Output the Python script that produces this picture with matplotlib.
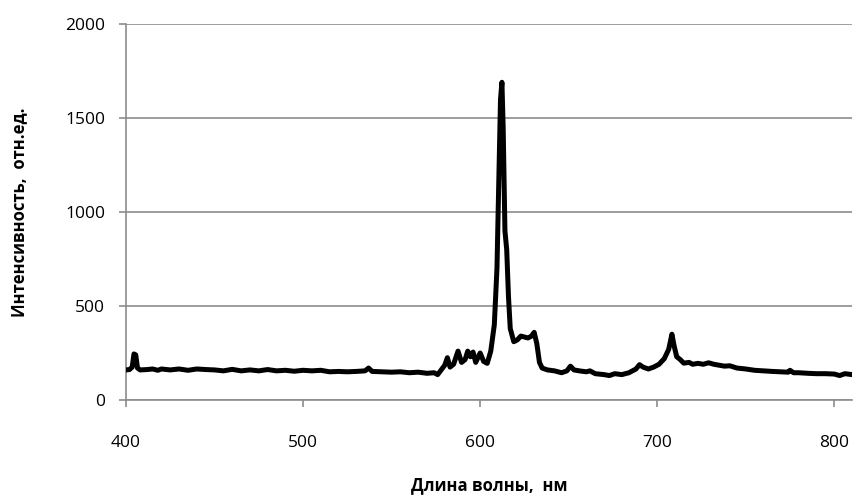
import matplotlib
matplotlib.use("Agg")
import matplotlib.pyplot as plt

wavelength = [400, 402, 403.5, 404.5, 405.5, 406.5, 408, 412, 415, 418, 420, 425, 430, 435,
              440, 445, 450, 455, 460, 465, 470, 475, 480, 485, 490, 495, 500, 505, 510,
              515, 520, 525, 530, 535, 537, 539, 545, 550, 555, 560, 565, 570, 574, 576,
              578, 580, 581.5, 583, 585, 587.5, 589.5, 591.5, 593, 594.5, 596, 597.5, 600,
              602, 604, 606, 608, 609.5, 610.5, 611.5, 612.3, 613, 614, 615, 616, 617,
              619, 621, 623, 625, 627, 629, 630.5, 632, 633.5, 635, 638, 642, 646, 649,
              651, 653, 656, 660, 662, 665, 670, 673, 676, 680, 684, 688, 690, 692, 695,
              698, 701, 704, 706.5, 708.3, 709.5, 711, 713, 715, 718, 720, 723, 726, 729,
              732, 735, 738, 741, 745, 750, 755, 760, 765, 770, 774, 775, 777, 780, 785,
              790, 795, 800, 803, 806, 810]
intensity = [160, 162, 175, 245, 240, 170, 160, 162, 165, 158, 165, 160, 165, 158,
             165, 162, 160, 155, 163, 155, 160, 155, 162, 155, 158, 153, 158, 155, 158,
             150, 152, 150, 152, 155, 170, 152, 150, 148, 150, 145, 148, 142, 145, 135,
             160, 185, 225, 175, 190, 260, 200, 215, 260, 230, 255, 200, 250,
             205, 195, 260, 400, 700, 1150, 1600, 1690, 1450, 900, 800, 550, 380,
             310, 320, 340, 335, 330, 340, 360, 300, 200, 170, 160, 155, 145, 155,
             180, 160, 155, 150, 155, 140, 135, 130, 140, 135, 145, 165, 188, 175, 165,
             175, 190, 220, 270, 350, 290, 230, 215, 196, 200, 190, 195, 190, 198,
             190, 185, 180, 182, 170, 165, 158, 155, 152, 150, 148, 158, 145, 145, 142,
             140, 140, 138, 130, 140, 135]

x_ticks = [400, 500, 600, 700, 800]
y_ticks = [0, 500, 1000, 1500, 2000]
x_label = "Длина волны,  нм"
y_label = "Интенсивность,  отн.ед."

plt.rcParams['font.family'] = ['Open Sans', 'DejaVu Sans']
grid_color = "#8c8c8c"

fig = plt.figure(figsize=(8.56, 5.0), dpi=100)
ax = fig.add_axes([126/856, 0.2, (852-126)/856, (400-24)/500])

ax.plot(wavelength, intensity, color="black", lw=3.6, solid_joinstyle="round",
        solid_capstyle="round", zorder=3)

ax.set_xlim(400, 810)
ax.set_ylim(0, 2000)
ax.set_xticks(x_ticks)
ax.set_yticks(y_ticks)
ax.yaxis.grid(True, color=grid_color, lw=1.2)
ax.set_axisbelow(True)
for s in ["top", "right"]:
    ax.spines[s].set_visible(False)
for s in ["left", "bottom"]:
    ax.spines[s].set_color(grid_color)
    ax.spines[s].set_linewidth(1.2)
ax.tick_params(axis="both", colors=grid_color, length=5, width=1.2, labelsize=12.5,
               labelcolor="black")
ax.tick_params(axis="x", pad=20)
ax.tick_params(axis="y", pad=10)

ax.set_xlabel(x_label, fontsize=12, fontweight="bold", labelpad=18)
ax.set_ylabel(y_label, fontsize=12, fontweight="bold", labelpad=27)

fig.savefig("out.png", dpi=100)
